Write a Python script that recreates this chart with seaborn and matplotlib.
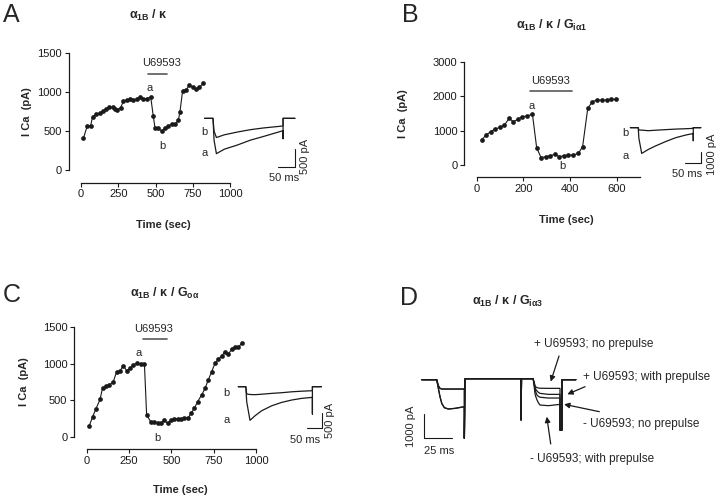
import matplotlib
matplotlib.use("Agg")
import matplotlib.pyplot as plt
import seaborn as sns

sns.set_theme(style="ticks")
plt.rcParams["font.family"] = ["Liberation Sans", "DejaVu Sans"]
plt.rcParams["mathtext.fontset"] = "custom"
plt.rcParams["mathtext.rm"] = "Liberation Sans"
plt.rcParams["mathtext.bf"] = "Liberation Sans:bold"
plt.rcParams["mathtext.it"] = "Liberation Sans:italic"

# ---- time courses (sec, pA) ----
A_t = [16, 42, 64, 78, 104, 127, 149, 167, 190, 212, 228, 243, 266, 284, 306, 329, 351,
       373, 396, 418, 441, 468, 485, 497, 519, 541, 564, 586, 609, 631, 653, 664, 682,
       705, 728, 749, 772, 795, 820]
A_I = [406, 564, 564, 684, 712, 735, 752, 786, 803, 803, 786, 774, 797, 880, 897, 915, 897,
       909, 935, 915, 915, 935, 692, 534, 534, 500, 534, 564, 585, 585, 637, 743, 1017,
       1026, 1090, 1060, 1035, 1060, 1111]

B_t = [21, 40, 60, 79, 100, 119, 139, 157, 176, 196, 214, 239, 257, 276, 296, 314, 336,
       354, 374, 393, 414, 436, 454, 476, 496, 514, 536, 557, 576, 597]
B_I = [726, 871, 968, 1045, 1094, 1161, 1355, 1258, 1326, 1403, 1423, 1471, 503, 213, 242,
       271, 310, 242, 271, 290, 290, 339, 532, 1645, 1839, 1887, 1887, 1887, 1906, 1906]

C_t = [15, 35, 55, 79, 94, 114, 134, 157, 177, 197, 216, 236, 256, 275, 295, 319, 341,
       354, 378, 400, 419, 439, 459, 478, 498, 518, 537, 557, 577, 600, 616, 636, 655,
       679, 699, 718, 738, 758, 777, 797, 817, 836, 856, 876, 896, 919]
C_I = [147, 274, 384, 513, 672, 695, 709, 754, 892, 901, 974, 905, 937, 983, 1006, 997,
       992, 297, 206, 206, 192, 183, 229, 183, 229, 242, 242, 242, 251, 260, 320, 389,
       481, 572, 663, 778, 892, 1006, 1061, 1107, 1166, 1129, 1199, 1235, 1226, 1290]

# drug application bars: start, stop (sec), bar level (pA), label centre (sec)
A_drug = (450, 577, 1231, 540)
B_drug = (229, 407, 2149, 318)
C_drug = (331, 476, 1336, 393)

# ---- inset current traces (ms, pA) ----
iA_t = [-25, 0, 3, 10, 33, 71, 110, 148, 206]
iA_a = [0, 0, -600, -973, -850, -737, -600, -500, -340]
iA_b = [0, 0, -350, -528, -454, -378, -312, -265, -210]

iB_t = [-25, 0, 2, 11, 32, 54, 86, 119, 151, 175]
iB_a = [0, 0, -900, -2200, -1860, -1573, -1200, -858, -629, -500]
iB_b = [0, 0, -200, -210, -257, -220, -170, -120, -90, -60]

iC_t = [-25, 0, 3, 14, 31, 53, 87, 120, 153, 186, 222]
iC_a = [0, 0, -500, -1120, -966, -800, -633, -522, -444, -389, -355]
iC_b = [0, 0, -244, -260, -266, -250, -222, -200, -170, -150, -133]

# ---- panel D sweep (ms, pA) ----
D_p1_t = [13.7, 15.2, 16.7, 18.3, 20.7, 24.4, 30.5, 39.0]
D_p1_plus = [0, -250, -360, -389, -389, -389, -389, -389]
D_p1_minus = [0, -360, -708, -986, -1167, -1222, -1194, -1125]
D_pp_t = [39.0, 39.6, 90.8, 90.8, 91.3, 102.1]
D_pp_I = [-2440, 40, 40, -1680, 40, 40]
D_p2_t = [102.1, 103.7, 104.3, 105.5, 106.7, 108.2, 115.8, 126.5]
D_p2 = {
    "+U, no prepulse": [0, -250, -300, -333, -345, -355, -361, -361],
    "+U, prepulse": [0, -330, -400, -470, -527, -570, -611, -611],
    "-U, no prepulse": [0, -400, -520, -640, -694, -730, -764, -764],
    "-U, prepulse": [0, -600, -700, -847, -960, -1055, -1083, -1028],
}
D_end_t = [126.5, 128.3, 128.3, 141]
D_end_I = [-2100, -2100, 0, 0]

W, H = 720, 498
fig = plt.figure(figsize=(W / 100, H / 100), dpi=100)


def box(x0, y0, x1, y1):
    return fig.add_axes([x0 / W, 1 - y1 / H, (x1 - x0) / W, (y1 - y0) / H])


def line(ax, x, y, lw=0.9, **kw):
    sns.lineplot(x=x, y=y, ax=ax, sort=False, estimator=None, color="k",
                 lw=lw, clip_on=False, **kw)


FS = 8


def time_course(ax, t, I, drug, xmax, ymax, xt, yt, a_xy, b_xy, xlab_y, ylab_x):
    line(ax, t, I, lw=0.8, marker="o", markersize=3.4, markeredgewidth=0)
    ax.set_xlim(0, xmax)
    ax.set_ylim(0, ymax)
    sns.despine(ax=ax, offset=9)
    ax.spines["left"].set_bounds(0, ymax)
    ax.spines["bottom"].set_bounds(0, xmax)
    for s in ("left", "bottom"):
        ax.spines[s].set_linewidth(0.9)
        ax.spines[s].set_color("k")
    ax.set_xticks(xt)
    ax.set_yticks(yt)
    ax.tick_params(labelsize=FS, length=3, width=0.8, pad=2, colors="k")
    ax.set_xlabel("Time (sec)", fontsize=FS, fontweight="bold")
    ax.set_ylabel("I Ca  (pA)", fontsize=FS, fontweight="bold")
    ax.xaxis.set_label_coords(0.55, xlab_y)
    ax.yaxis.set_label_coords(ylab_x, 0.5)
    x0, x1, lev, tx = drug
    ax.plot([x0, x1], [lev, lev], color="0.35", lw=1.2, clip_on=False)
    ax.text(tx, lev + 0.05 * ymax, "U69593", ha="center", va="bottom", fontsize=FS)
    ax.text(*a_xy, "a", ha="center", va="center", fontsize=FS)
    ax.text(*b_xy, "b", ha="center", va="center", fontsize=FS)


def inset(ax, t, a, b, t_end, tail, post, xlim, ylim, vbar, hbar, vlab, hlab,
          ab_x, a_y, b_y):
    for tr, tl in ((a, tail), (b, None)):
        xs = list(t)
        ys = list(tr)
        if tl is not None:
            xs += [t_end, t_end]
            ys += [tl, 0]
        else:
            xs += [t_end]
            ys += [0]
        xs += [post]
        ys += [0]
        line(ax, xs, ys, lw=0.9)
    ax.set_xlim(*xlim)
    ax.set_ylim(*ylim)
    ax.axis("off")
    vx, v0, v1 = vbar
    ax.plot([vx, vx, vx - hbar], [v0, v1, v1], color="k", lw=0.8, clip_on=False)
    ax.text(*vlab[0], vlab[1], rotation=90, ha="center", va="center", fontsize=FS)
    ax.text(*hlab[0], hlab[1], ha="center", va="center", fontsize=FS)
    ax.text(ab_x, a_y, "a", ha="center", va="center", fontsize=FS)
    ax.text(ab_x, b_y, "b", ha="center", va="center", fontsize=FS)


# ---- A ----
axA = box(81, 53, 230, 170)
time_course(axA, A_t, A_I, A_drug, 1000, 1500, [0, 250, 500, 750, 1000],
            [0, 500, 1000, 1500], (463, 1051), (544, 308), -0.43, -0.33)
insA = box(195, 110, 315, 175)
inset(insA, iA_t, iA_a, iA_b, 206, -560, 241,
      (-53, 300), (-1560, 230), (241, -834, -1334), 50,
      ((270, -1060), "500 pA"), ((209, -1640), "50 ms"), -24, -945, -389)

# ---- B ----
axB = box(476.7, 61.7, 640, 165)
time_course(axB, B_t, B_I, B_drug, 700, 3000, [0, 200, 400, 600],
            [0, 1000, 2000, 3000], (236, 1713), (367, -30), -0.48, -0.42)
insB = box(620, 110, 720, 180)
inset(insB, iB_t, iB_a, iB_b, 175, -1110, 199,
      (-58, 260), (-4470, 1510), (198, -2050, -3050), 50,
      ((236, -2300), "1000 pA"), ((155, -3950), "50 ms"), -40, -2420, -430)

# ---- C ----
axC = box(86.7, 327.3, 256, 436.7)
time_course(axC, C_t, C_I, C_drug, 1000, 1500, [0, 250, 500, 750, 1000],
            [0, 500, 1000, 1500], (305, 1144), (419, -20), -0.44, -0.34)
insC = box(220, 370, 340, 450)
inset(insC, iC_t, iC_a, iC_b, 222, -910, 252,
      (-86, 314), (-2108, 556), (253, -886, -1386), 50,
      ((280, -1140), "500 pA"), ((197, -1775), "50 ms"), -63, -1109, -220)

# ---- D ----
axD = box(400, 330, 600, 470)
for name, cur in D_p2.items():
    p1 = D_p1_plus if name.startswith("+") else D_p1_minus
    xs = [0] + D_p1_t + D_pp_t + D_p2_t + D_end_t
    ys = [0] + p1 + D_pp_I + cur + D_end_I
    line(axD, xs, ys, lw=0.9)
axD.set_xlim(-19.9, 163.1)
axD.set_ylim(-3763, 2071)
axD.axis("off")
axD.plot([2.4, 2.4, 27.4], [-1442, -2442, -2442], color="k", lw=0.8, clip_on=False)
axD.text(-9.5, -1958, "1000 pA", rotation=90, ha="center", va="center", fontsize=FS)
axD.text(15.8, -2971, "25 ms", ha="center", va="center", fontsize=FS)

arrow = dict(arrowstyle="-|>", color="k", lw=0.9, mutation_scale=8,
             shrinkA=0, shrinkB=0)
notes = [
    ("+ U69593; no prepulse", (157, 1475), (125.6, 988), (118, -80)),
    ("+ U69593; with prepulse", (206, 125), (149.4, -292), (133.2, -608)),
    ("- U69593; no prepulse", (201, -1846), (162.5, -1333), (130.2, -1025)),
    ("- U69593; with prepulse", (156, -3317), (118, -2679), (114.4, -1542)),
]
for txt, pos, tail, tip in notes:
    axD.text(*pos, txt, ha="center", va="center", fontsize=8.5)
    axD.annotate("", xy=tip, xytext=tail, arrowprops=arrow, annotation_clip=False)

# ---- titles & panel letters ----
titles = [
    (148, 15, r"α$_{\mathbf{1B}}$ / κ"),
    (552, 25, r"α$_{\mathbf{1B}}$ / κ / G$_{\mathbf{iα1}}$"),
    (165, 293, r"α$_{\mathbf{1B}}$ / κ / G$_{\mathbf{oα}}$"),
    (508, 301, r"α$_{\mathbf{1B}}$ / κ / G$_{\mathbf{iα3}}$"),
]
for x, y, s in titles:
    fig.text(x / W, 1 - y / H, s, ha="center", va="center", fontsize=9,
             fontweight="bold")
for x, y, s in [(11, 15, "A"), (410, 15, "B"), (12, 295, "C"), (409, 298, "D")]:
    fig.text(x / W, 1 - y / H, s, ha="center", va="center", fontsize=18)

fig.savefig("out.png", dpi=100, facecolor="white")
